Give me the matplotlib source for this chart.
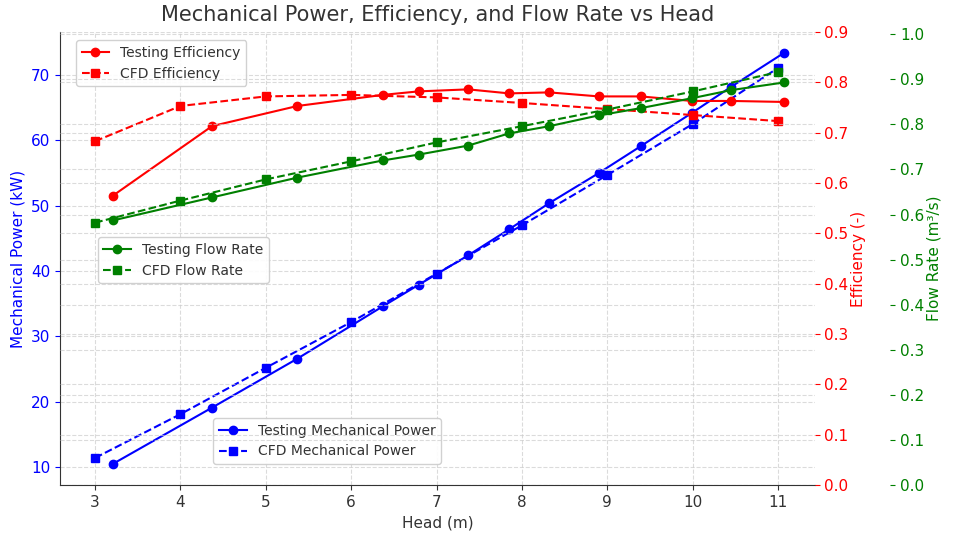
import matplotlib.pyplot as plt

# --- Data ---
head_test = [3.21, 4.37, 5.37, 6.37, 6.79, 7.37, 7.85, 8.32, 8.90, 9.39, 9.99, 10.45, 11.07]
head_cfd = [3, 4, 5, 6, 7, 8, 9, 10, 11]

power_test = [10.5, 19.1, 26.6, 34.6, 37.9, 42.4, 46.4, 50.4, 55.0, 59.1, 64.2, 68.2, 73.4]
power_cfd = [11.4, 18.1, 25.2, 32.2, 39.6, 47.0, 54.7, 62.5, 71.1]

eff_test = [0.575, 0.713, 0.753, 0.775, 0.782, 0.786, 0.778, 0.780, 0.772, 0.772, 0.763, 0.763, 0.761]
eff_cfd = [0.683, 0.753, 0.772, 0.775, 0.770, 0.759, 0.747, 0.735, 0.723]

flow_test = [0.587, 0.638, 0.682, 0.720, 0.733, 0.753, 0.780, 0.796, 0.820, 0.836, 0.858, 0.876, 0.893]
flow_cfd = [0.582, 0.631, 0.678, 0.718, 0.760, 0.796, 0.833, 0.873, 0.916]

TEXT = '#333333'
GRID = dict(linestyle='--', linewidth=0.8, color='#cccccc', alpha=0.7)


def style_axis(ax, color):
    for side in ('top', 'right'):
        ax.spines[side].set_visible(False)
    ax.tick_params(axis='y', colors=color, labelsize=11)
    ax.yaxis.label.set_color(color)


def main():
    fig = plt.figure(figsize=(9.54, 5.33), dpi=100)
    ax1 = fig.add_axes([0.063, 0.090, 0.791, 0.850])

    # Mechanical power (left axis)
    ax1.plot(head_test, power_test, color='blue', marker='o', markersize=6,
             linestyle='-', linewidth=1.5, label='Testing Mechanical Power')
    ax1.plot(head_cfd, power_cfd, color='blue', marker='s', markersize=6,
             linestyle='--', linewidth=1.5, label='CFD Mechanical Power')
    ax1.set_ylim(7.25, 76.6)
    ax1.set_xlim(2.59, 11.43)
    ax1.set_xlabel('Head (m)', fontsize=11, color=TEXT)
    ax1.set_ylabel('Mechanical Power (kW)', fontsize=11)
    ax1.set_xticks(range(3, 12))
    ax1.tick_params(axis='x', colors=TEXT, labelsize=11)
    ax1.grid(True, **GRID)
    ax1.spines['left'].set_color('#333333')
    ax1.spines['bottom'].set_color('#333333')
    style_axis(ax1, 'blue')

    # Efficiency (first right axis)
    ax2 = ax1.twinx()
    ax2.plot(head_test, eff_test, color='red', marker='o', markersize=6,
             linestyle='-', linewidth=1.5, label='Testing Efficiency')
    ax2.plot(head_cfd, eff_cfd, color='red', marker='s', markersize=6,
             linestyle='--', linewidth=1.5, label='CFD Efficiency')
    ax2.set_ylim(0, 0.9)
    ax2.set_yticks([i / 10 for i in range(10)])
    ax2.set_ylabel('Efficiency (-)', fontsize=11, labelpad=2)
    ax2.grid(True, axis='y', **GRID)
    ax2.spines['left'].set_visible(False)
    ax2.spines['bottom'].set_visible(False)
    style_axis(ax2, 'red')

    # Flow rate (second right axis, pushed outward)
    ax3 = ax1.twinx()
    ax3.spines['right'].set_position(('axes', 1.1))
    ax3.plot(head_test, flow_test, color='green', marker='o', markersize=6,
             linestyle='-', linewidth=1.5, label='Testing Flow Rate')
    ax3.plot(head_cfd, flow_cfd, color='green', marker='s', markersize=6,
             linestyle='--', linewidth=1.5, label='CFD Flow Rate')
    ax3.set_ylim(0, 1.005)
    ax3.set_yticks([i / 10 for i in range(11)])
    ax3.set_ylabel('Flow Rate (m³/s)', fontsize=11, labelpad=2)
    ax3.grid(True, axis='y', **GRID)
    ax3.spines['left'].set_visible(False)
    ax3.spines['bottom'].set_visible(False)
    style_axis(ax3, 'green')

    leg_kw = dict(fontsize=10, labelcolor=TEXT, edgecolor='#cccccc', framealpha=0.9)
    ax2.legend(loc='upper left', bbox_to_anchor=(0.021, 0.982), borderaxespad=0, **leg_kw)
    ax3.legend(loc='upper left', bbox_to_anchor=(0.050, 0.547), borderaxespad=0, **leg_kw)
    ax3.legend_.set_zorder(5)
    leg1 = ax1.legend(loc='upper left', bbox_to_anchor=(0.203, 0.148), borderaxespad=0, **leg_kw)

    ax1.set_title('Mechanical Power, Efficiency, and Flow Rate vs Head',
                  fontsize=15, color=TEXT, pad=8)

    fig.savefig('out.png', dpi=100)
    plt.close(fig)


if __name__ == '__main__':
    main()
